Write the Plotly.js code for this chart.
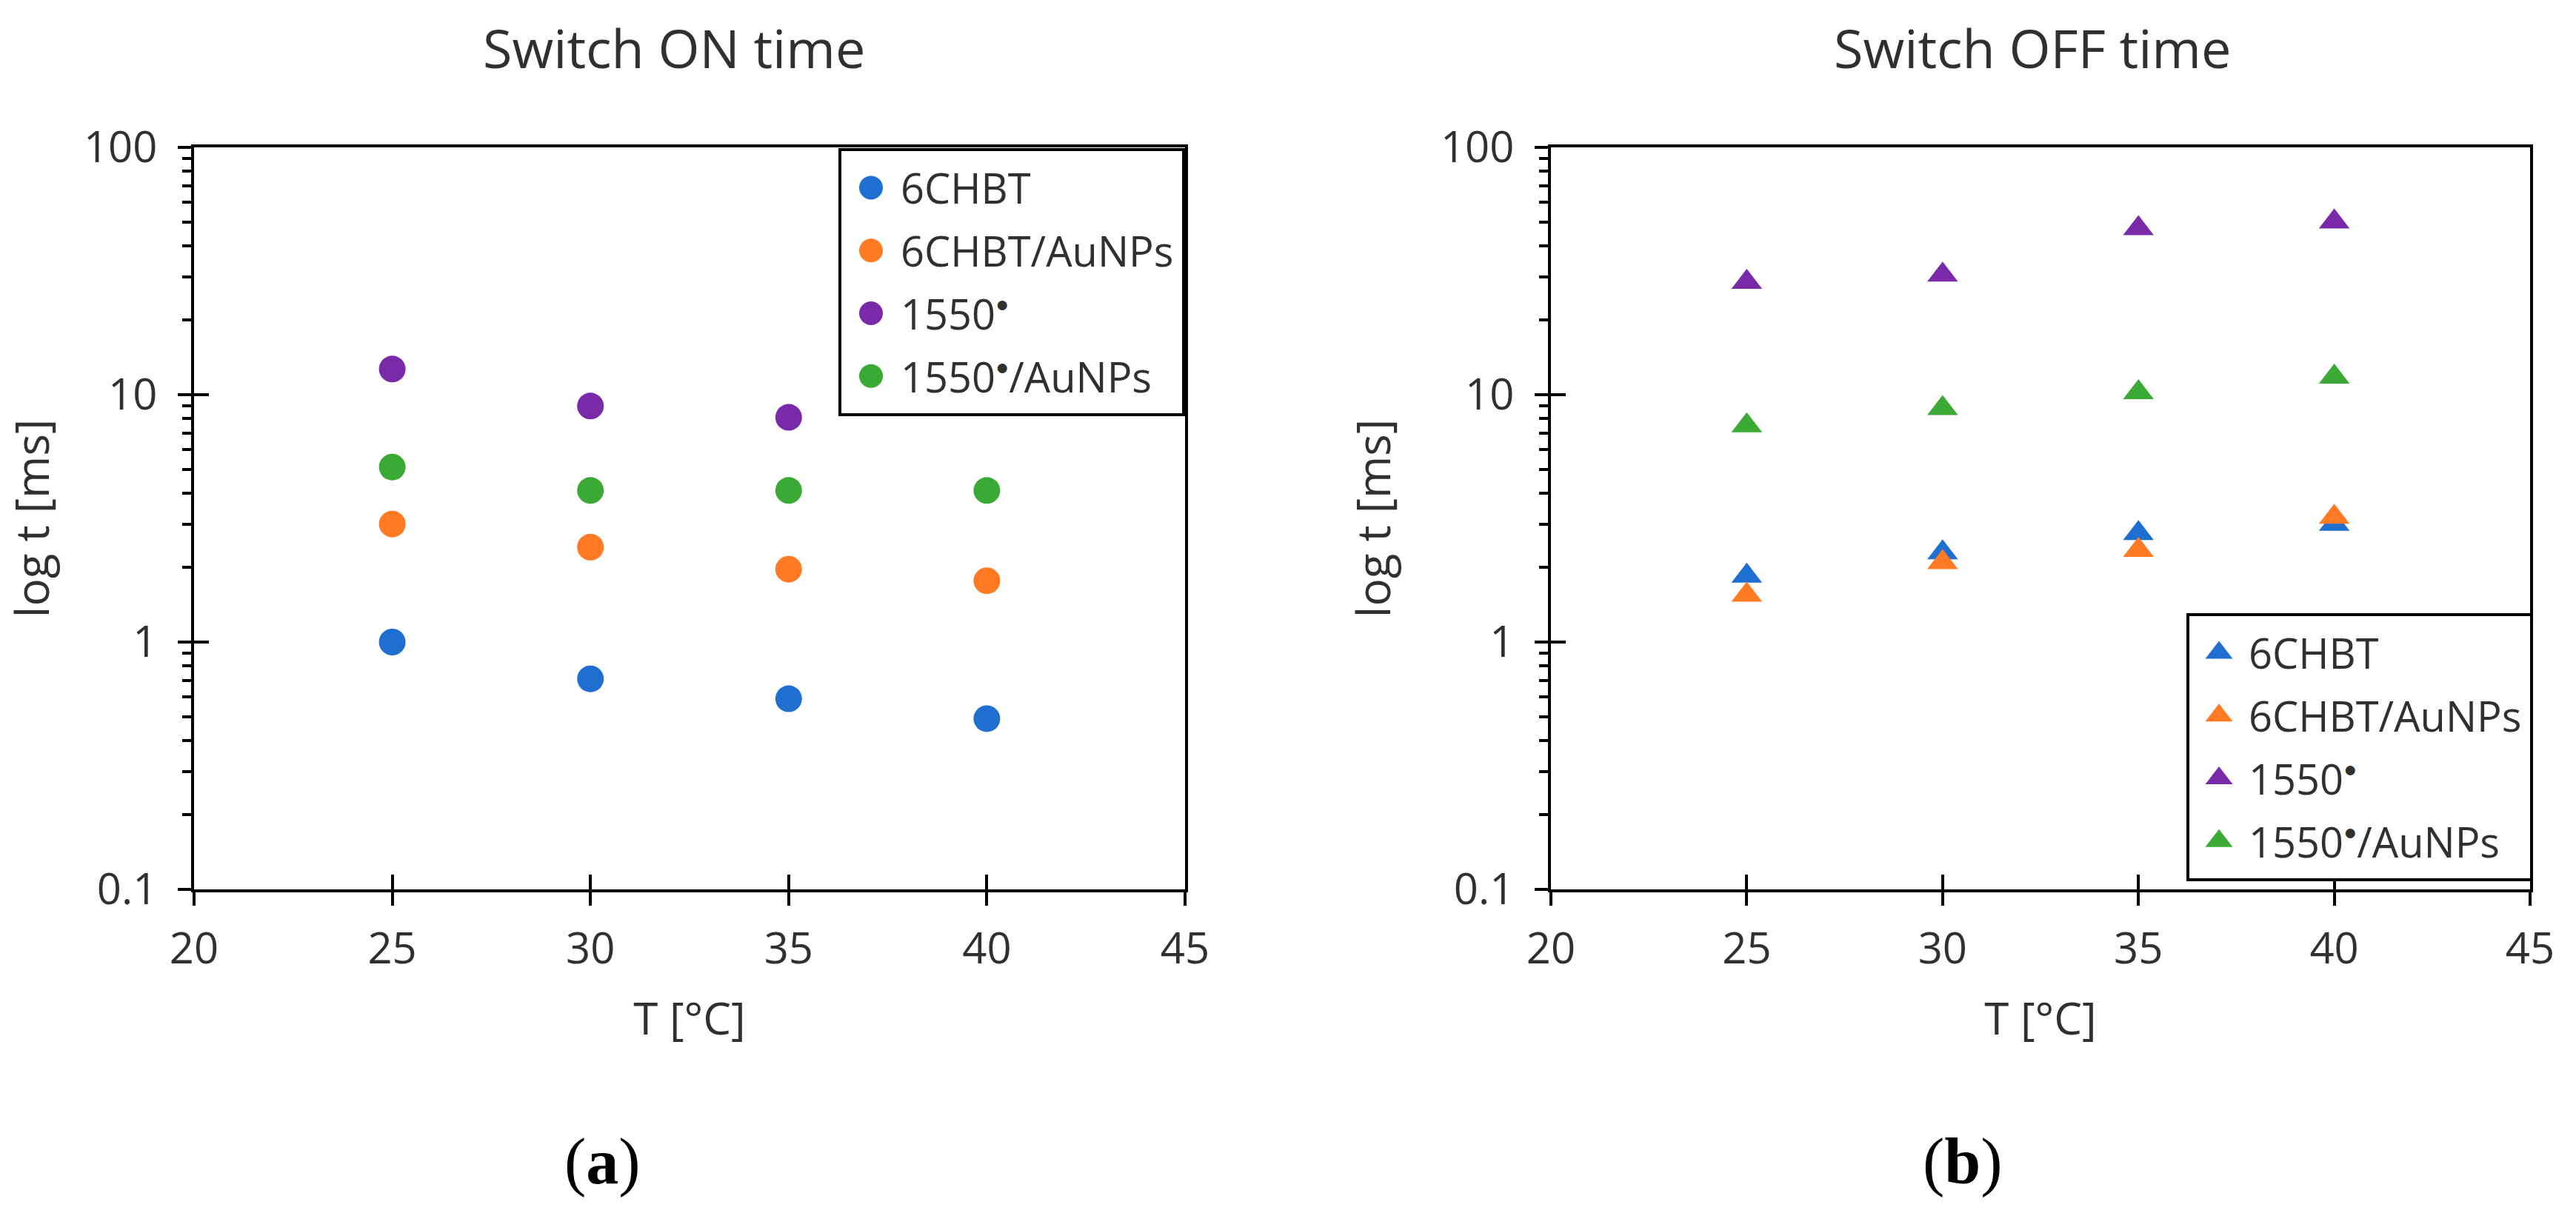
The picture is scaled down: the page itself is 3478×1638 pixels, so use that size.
<!DOCTYPE html>
<html>
<head>
<meta charset="utf-8">
<script src="https://cdn.plot.ly/plotly-3.0.1.min.js"></script>
<style>
  html { margin: 0; padding: 0; width: 3478px; height: 1638px; overflow: hidden; background: #fff; }
  body { margin: 0; padding: 0; width: 3478px; height: 1638px; background: #fff; }
  /* drawn at half size, then scaled up so legend symbols keep their size */
  #wrap { width: 1739px; height: 819px; transform: scale(2); transform-origin: 0 0; }
  #chart { width: 1739px; height: 819px; }
</style>
</head>
<body>
<div id="wrap"><div id="chart"></div></div>
<script>
// Switch ON / OFF time vs temperature

// Data
var temps = [25, 30, 35, 40];
// raised dot after 1550 (no <sup>, it leaves empty spacer tspans behind)
var dot = '<span style="font-size:15px;baseline-shift:12px">●</span>';
var series_names = ['6CHBT', '6CHBT/AuNPs', '1550' + dot, '1550' + dot + '/AuNPs'];
var series_colors = ['#1f6fd0', '#ff7a22', '#7a2aa8', '#3aaa35'];

// switch ON time [ms]
var on_6chbt = [1.0, 0.71, 0.59, 0.49];
var on_6chbt_au = [3.0, 2.42, 1.97, 1.77];
var on_1550 = [12.7, 9.0, 8.1, null];
var on_1550_au = [5.1, 4.1, 4.1, 4.1];

// switch OFF time [ms]
var off_6chbt = [1.85, 2.3, 2.75, 3.0];
var off_6chbt_au = [1.55, 2.1, 2.35, 3.2];
var off_1550 = [28.5, 30.5, 47, 50];
var off_1550_au = [7.5, 8.8, 10.2, 11.8];

var x_range = [20, 45];
var y_range_log = [-1, 2];


// Traces
function make_traces(values_list, symbol, xaxis, yaxis, legend, group) {
  var traces = [];
  for (let i = 0; i < values_list.length; i++) {
    traces.push({
      x: temps,
      y: values_list[i],
      name: series_names[i],
      type: 'scatter',
      mode: 'markers',
      xaxis: xaxis,
      yaxis: yaxis,
      legend: legend,
      legendgroup: group + i,
      marker: {symbol: symbol, size: 18, color: series_colors[i], line: {width: 0}},
      hoverinfo: 'x+y+name',
    });
  }
  return traces;
}

// empty traces so the tick-only overlay axes get drawn
function tick_holder(xaxis, yaxis) {
  return {x: [], y: [], type: 'scatter', mode: 'markers', xaxis: xaxis, yaxis: yaxis,
    showlegend: false, hoverinfo: 'skip'};
}


// Axes
var font_family = 'Open Sans, sans-serif';
var text_color = '#303030';

function x_axis(domain, anchor) {
  return {
    domain: domain,
    anchor: anchor,
    range: x_range,
    dtick: 5,
    ticks: 'outside',
    ticklen: 9,
    tickwidth: 2,
    tickcolor: 'black',
    ticklabelstandoff: 4,
    tickfont: {family: font_family, size: 29, color: text_color},
    title: {text: 'T [°C]', standoff: 20, font: {family: font_family, size: 30, color: text_color}},
    showline: true,
    mirror: true,
    linewidth: 2,
    linecolor: 'black',
    showgrid: false,
    zeroline: false,
    fixedrange: true,
  };
}

function y_axis(domain, anchor) {
  return {
    domain: domain,
    anchor: anchor,
    type: 'log',
    range: y_range_log,
    dtick: 1,
    ticks: 'outside',
    ticklen: 9,
    tickwidth: 2,
    tickcolor: 'black',
    ticklabelstandoff: 8,
    tickfont: {family: font_family, size: 29, color: text_color},
    title: {text: 'log t [ms]', standoff: 24, font: {family: font_family, size: 31, color: text_color}},
    minor: {ticks: 'outside', ticklen: 6, tickwidth: 2, tickcolor: 'black', dtick: 'D1', showgrid: false},
    showline: true,
    mirror: true,
    linewidth: 2,
    linecolor: 'black',
    showgrid: false,
    zeroline: false,
    fixedrange: true,
  };
}

// inside half of the crossing major ticks
function x_inner(over, anchor) {
  return {overlaying: over, anchor: anchor, range: x_range, dtick: 5,
    ticks: 'inside', ticklen: 10, tickwidth: 2, tickcolor: 'black',
    showticklabels: false, showline: false, showgrid: false, zeroline: false, fixedrange: true};
}

function y_inner(over, anchor) {
  return {overlaying: over, anchor: anchor, type: 'log', range: y_range_log, dtick: 1,
    ticks: 'inside', ticklen: 10, tickwidth: 2, tickcolor: 'black',
    showticklabels: false, showline: false, showgrid: false, zeroline: false, fixedrange: true};
}

function legend_box(x, y, yanchor) {
  return {
    x: x, xanchor: 'right', y: y, yanchor: yanchor,
    bgcolor: 'white', bordercolor: 'black', borderwidth: 2,
    font: {family: font_family, size: 28, color: text_color},
    traceorder: 'grouped', tracegroupgap: 3, itemwidth: 30,
  };
}

function label(text, x, y, size, family) {
  return {
    text: text, x: x, y: y, xref: 'paper', yref: 'paper',
    xanchor: 'center', yanchor: 'middle', showarrow: false,
    font: {family: family || font_family, size: size, color: family ? 'black' : text_color},
  };
}


// Drawing
var W = 1739, H = 819;
function px(x) { return x / W; }
function py(y) { return 1 - y / H; }

var plot_data = [].concat(
  make_traces([on_6chbt, on_6chbt_au, on_1550, on_1550_au], 'circle', 'x', 'y', 'legend', 'on'),
  make_traces([off_6chbt, off_6chbt_au, off_1550, off_1550_au], 'triangle-up', 'x2', 'y2', 'legend2', 'off'),
  [tick_holder('x3', 'y'), tick_holder('x', 'y3'), tick_holder('x4', 'y2'), tick_holder('x2', 'y4')]
);

var y_domain = [py(600.5), py(99.5)];
var serif = 'Liberation Serif, Times New Roman, serif';

var layout = {
  width: W,
  height: H,
  margin: {l: 0, r: 0, t: 0, b: 0},
  paper_bgcolor: 'white',
  plot_bgcolor: 'white',

  xaxis: x_axis([px(131), px(800)], 'y'),
  yaxis: y_axis(y_domain, 'x'),
  xaxis2: x_axis([px(1047), px(1708)], 'y2'),
  yaxis2: y_axis(y_domain, 'x2'),
  xaxis3: x_inner('x', 'y'),
  yaxis3: y_inner('y', 'x'),
  xaxis4: x_inner('x2', 'y2'),
  yaxis4: y_inner('y2', 'x2'),

  legend: legend_box(px(800), py(100), 'top'),
  legend2: legend_box(px(1710), py(595), 'bottom'),

  annotations: [
    label('Switch ON time', px(455), py(33), 36),
    label('Switch OFF time', px(1372), py(33), 36),
    label('(<b>a</b>)', px(406), py(784), 44, serif),
    label('(<b>b</b>)', px(1325), py(784), 44, serif),
  ],
};

var config = {
  displayModeBar: false,
  staticPlot: true,
};

Plotly.newPlot('chart', plot_data, layout, config);
</script>
</body>
</html>
